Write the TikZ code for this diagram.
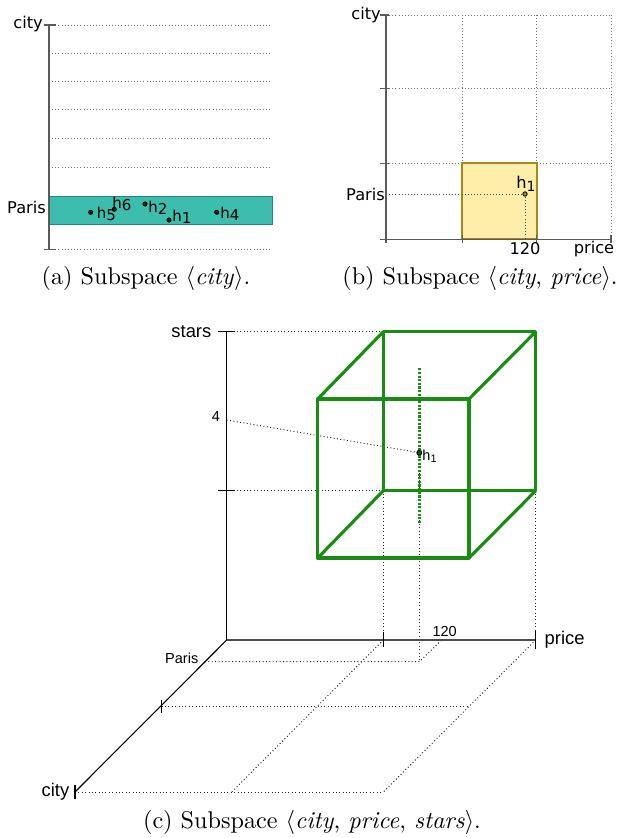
\documentclass[tikz,border=0pt]{standalone}
\usepackage{fontspec}
\newfontfamily\djv{DejaVu Sans}
\newfontfamily\lib{Liberation Sans}
\definecolor{teal1}{RGB}{61,189,173}
\definecolor{teal2}{RGB}{40,135,124}
\definecolor{yel1}{RGB}{255,237,170}
\definecolor{yel2}{RGB}{165,138,25}
\definecolor{grn}{RGB}{25,140,20}
\definecolor{axg}{RGB}{90,90,90}
\tikzset{
 axA/.style={draw=axg, line width=0.65pt},
 axC/.style={draw=black, line width=0.45pt},
 dotln/.style={draw=black!55, line width=0.4pt, dash pattern=on 0.4pt off 0.9pt},
 dotlnk/.style={draw=black!85, line width=0.4pt, dash pattern=on 0.4pt off 1pt},
 lblA/.style={font=\djv\fontsize{6.7}{7}\selectfont, inner sep=0.5pt},
 hlab/.style={font=\djv\fontsize{6.2}{6.5}\selectfont, inner sep=0pt, anchor=west},
 lblC/.style={font=\lib\fontsize{7.6}{8}\selectfont, inner sep=0.5pt},
 lblCs/.style={font=\lib\fontsize{6}{7}\selectfont, inner sep=0.5pt},
 hdot/.style={circle, draw=black, fill=black!85, inner sep=0pt, minimum size=1.7pt, line width=0.35pt},
 capt/.style={font=\fontsize{10}{12}\selectfont, inner sep=0pt, anchor=base},
 cubeln/.style={draw=grn, line width=1.3pt, line join=round},
}
\begin{document}
\begin{tikzpicture}[x=0.4132pt,y=-0.4132pt]
\useasboundingbox (0,0) rectangle (618,838);

% ---------------- (a) ----------------
\foreach \yy in {25,53.3,81.3,109.7,138.7,167.3,249.3}
  \draw[dotln] (49,\yy) -- (272,\yy);
\draw[fill=teal1, draw=teal2, line width=0.4pt] (49,196) rectangle (272,224);
\coordinate (aTop) at (49,25);
\coordinate (aBot) at (49,249.3);
\draw[axA] (aTop) -- (aBot);
\draw[axA] (44,25) -- (56,25);
\draw[axA] (44,249.3) -- (56,249.3);
\node[lblA, anchor=east] (aCity) at (44.5,24) {city};
\node[lblA, anchor=east] (aParis) at (47.5,207) {Paris};
\node[hdot] (a5) at (90.7,212.3) {};
\node[hdot] (a6) at (114.3,209.3) {};
\node[hdot] (a2) at (145,204) {};
\node[hdot] (a1) at (169,220) {};
\node[hdot] (a4) at (216.7,212.3) {};
\node[hlab] (a5l) at (96.5,214) {h\raisebox{-0.25ex}{5}};
\node[hlab] (a6l) at (112,203.5) {h\raisebox{-0.25ex}{6}};
\node[hlab] (a2l) at (148,208) {h\raisebox{-0.25ex}{2}};
\node[hlab] (a1l) at (172,216.5) {h\raisebox{-0.25ex}{1}};
\node[hlab] (a4l) at (220,214) {h\raisebox{-0.25ex}{4}};
\node[capt] (capA) at (146,284) {(a) Subspace $\langle$\textit{city}$\rangle$.};

% ---------------- (b) ----------------
\foreach \yy in {15,88.3,163.3}
  \draw[dotln] (386,\yy) -- (611,\yy);
\foreach \xx in {462.3,536.7,611}
  \draw[dotln] (\xx,15) -- (\xx,239.3);
\draw[fill=yel1, draw=yel2, line width=0.7pt] (462.3,163.3) rectangle (536.7,239.3);
\node[hdot, fill=yel2, minimum size=1.8pt] (b1) at (525,194) {};
\coordinate (bParisAx) at (386,194);
\coordinate (bPriceAx) at (525,239.3);
\draw[dotln, draw=black!70] (bParisAx) -- (b1.west);
\draw[dotln, draw=black!70] (b1.south) -- (bPriceAx);
\draw[axA] (386,15) -- (386,243);
\draw[axA] (381,239.3) -- (611,239.3);
\foreach \yy in {15,88.3,163.3,239.3}
  \draw[axA] (380,\yy) -- (389,\yy);
\foreach \xx in {462.3,536.7,611}
  \draw[axA] (\xx,235) -- (\xx,243);
\node[lblA, anchor=east] (bCity) at (382.5,15) {city};
\node[lblA, anchor=east] (bParis) at (386.5,194) {Paris};
\node[lblA] (b120) at (525,249) {120};
\node[lblA] (bPrice) at (594,249) {price};
\node[lblA, inner sep=0pt] (b1l) at (526,184) {h{\fontsize{5.8}{6}\selectfont\raisebox{-0.35ex}{1}}};
\node[capt] (capB) at (480,284) {(b) Subspace $\langle$\textit{city}, \textit{price}$\rangle$.};

% ---------------- (c) ----------------
\coordinate (O) at (226.7,640);
\coordinate (sTop) at (226.7,331.7);
\coordinate (s4) at (226.7,420);
\coordinate (sMid) at (226.7,490.7);
\coordinate (pEnd) at (535.7,640);
\coordinate (pTick) at (383.3,640);
\coordinate (p120) at (441.7,640);
\coordinate (cEnd) at (75,792);
\coordinate (cTick) at (161.7,706.7);
\coordinate (cParis) at (205,661.7);
% back face / front face of cube
\coordinate (B1) at (383.3,331.7);
\coordinate (B2) at (535.7,331.7);
\coordinate (B3) at (535.7,490.7);
\coordinate (B4) at (383.3,490.7);
\coordinate (F1) at (317.7,399);
\coordinate (F2) at (469,399);
\coordinate (F3) at (469,558);
\coordinate (F4) at (317.7,558);
\coordinate (hFloor) at (419.3,661.7);
\coordinate (gTop) at (419.3,368.3);
\coordinate (gBot) at (419.3,523.3);
% floor grid
\draw[dotlnk] (cParis) -- (hFloor) -- (p120);
\draw[dotlnk] (cTick) -- (468.3,706.7);
\draw[dotlnk] (cEnd) -- (383.3,792);
\draw[dotlnk] (pTick) -- (231.7,792);
\draw[dotlnk] (pEnd) -- (383.3,792);
% projections
\draw[dotlnk] (sTop) -- (B1);
\draw[dotlnk] (sMid) -- (B4);
\draw[dotlnk] (B4) -- (pTick);
\draw[dotlnk] (B3) -- (pEnd);
\coordinate (c1p) at (419.3,452.7);
\draw[dotlnk] (s4) -- (c1p);
\draw[dotlnk] (c1p) -- (hFloor);
% cube
\draw[cubeln] (B1) -- (B2) -- (B3) -- (B4) -- cycle;
\draw[cubeln] (F1) -- (F2) -- (F3) -- (F4) -- cycle;
\draw[cubeln] (B1) -- (F1) (B2) -- (F2) (B3) -- (F3) (B4) -- (F4);
\draw[draw=grn, line width=1pt, dash pattern=on 0.9pt off 0.6pt] (gTop) -- (gBot);
\node[hdot, fill=grn!70!black, minimum size=2pt, line width=0.4pt] (c1) at (c1p) {};
% axes
\draw[axC] (sTop) -- (O);
\draw[axC, draw=black!70, line width=0.55pt] (O) -- (pEnd);
\draw[axC] (O) -- (cEnd);
\draw[axC] (218,331.7) -- (235,331.7);
\draw[axC] (218,490.7) -- (235,490.7);
\draw[axC] (383.3,631.7) -- (383.3,647.3);
\draw[axC] (535.7,631) -- (535.7,649);
\draw[axC] (161.7,700) -- (161.7,713);
\draw[axC] (75,785) -- (75,799);
% labels
\node[lblC, anchor=east] (cStars) at (213,331.7) {stars};
\node[lblCs] (c4) at (216,416.7) {4};
\node[lblC, anchor=west] (cPrice) at (543,640) {price};
\node[lblCs] (c120) at (444.7,631.5) {120};
\node[lblC, anchor=east] (cCity) at (71,792) {city};
\node[lblCs, anchor=east] (cParisL) at (200,658) {Paris};
\node[lblCs, anchor=west, inner sep=0pt] (c1l) at (422,456.5) {h{\fontsize{4.5}{5}\selectfont\raisebox{-0.4ex}{1}}};
\node[capt] (capC) at (312,828) {(c) Subspace $\langle$\textit{city}, \textit{price}, \textit{stars}$\rangle$.};
\end{tikzpicture}
\end{document}
